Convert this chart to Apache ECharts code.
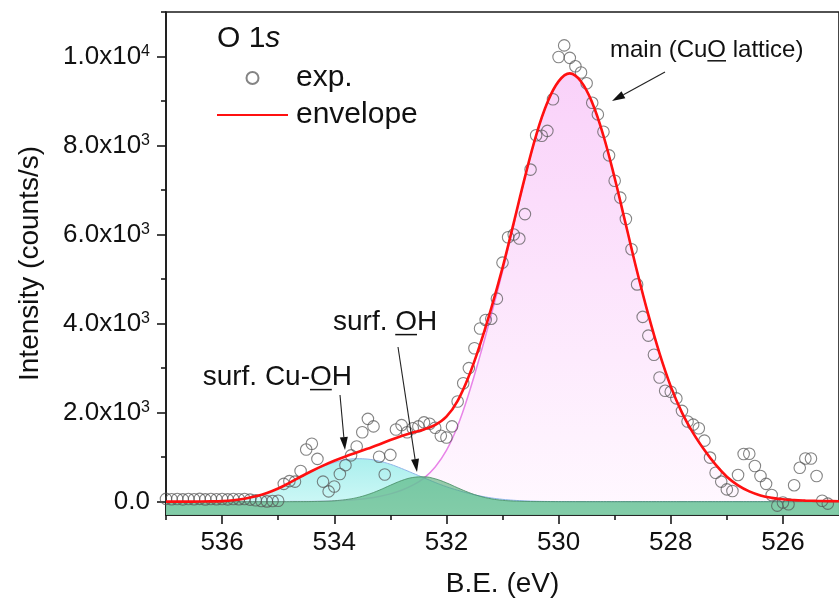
<!DOCTYPE html>
<html>
<head>
<meta charset="utf-8">
<script src="https://cdn.jsdelivr.net/npm/echarts@6/dist/echarts.min.js"></script>
<style>
  html, body { margin: 0; padding: 0; background: #fff; }
  #chart { width: 839px; height: 603px; }
</style>
</head>
<body>
<div id="chart"></div>
<script>
// ---- O 1s spectrum: measured points ----
const expBE = [
  537.0, 536.9, 536.8, 536.7, 536.6, 536.5, 536.4, 536.3, 536.2, 536.1,
  536.0, 535.9, 535.8, 535.7, 535.6, 535.5, 535.4, 535.3, 535.2, 535.1,
  535.0, 534.9, 534.8, 534.7, 534.6, 534.5, 534.4, 534.3, 534.2, 534.1,
  534.0, 533.9, 533.8, 533.7, 533.6, 533.5, 533.4, 533.3, 533.2, 533.1,
  533.0, 532.9, 532.8, 532.7, 532.6, 532.5, 532.4, 532.3, 532.2, 532.1,
  532.0, 531.9, 531.8, 531.7, 531.6, 531.5, 531.4, 531.3, 531.2, 531.1,
  531.0, 530.9, 530.8, 530.7, 530.6, 530.5, 530.4, 530.3, 530.2, 530.1,
  530.0, 529.9, 529.8, 529.7, 529.6, 529.5, 529.4, 529.3, 529.2, 529.1,
  529.0, 528.9, 528.8, 528.7, 528.6, 528.5, 528.4, 528.3, 528.2, 528.1,
  528.0, 527.9, 527.8, 527.7, 527.6, 527.5, 527.4, 527.3, 527.2, 527.1,
  527.0, 526.9, 526.8, 526.7, 526.6, 526.5, 526.4, 526.3, 526.2, 526.1,
  526.0, 525.9, 525.8, 525.7, 525.6, 525.5, 525.4, 525.3, 525.2
];
const expCounts = [
  62, 55, 60, 52, 58, 55, 62, 50, 58, 55,
  60, 52, 58, 55, 60, 45, 30, 15, 5, 15,
  20, 400, 460, 450, 690, 1170, 1300, 960, 450, 230,
  340, 620, 820, 1040, 1240, 1560, 1860, 1690, 1010, 610,
  1050, 1620, 1720, 1560, 1650, 1690, 1780, 1750, 1660, 1480,
  1440, 1690, 2250, 2660, 3000, 3445, 3890, 4080, 4110, 4560,
  5370, 5940, 6000, 5910, 6460, 7460, 8230, 8220, 8330, 9040,
  9990, 10250, 9970, 9780, 9640, 9400, 8960, 8700, 8310, 7780,
  7210, 6830, 6350, 5670, 4880, 4150, 3730, 3300, 2790, 2490,
  2470, 2320, 2040, 1800, 1730, 1650, 1370, 990, 650, 450,
  275, 240, 600, 1070, 1075, 800, 575, 400, 150, -90,
  -20, -60, 370, 760, 970, 970, 575, 20, -45
];

// ---- fitted components (sampled every 0.2 eV) ----
const fitBE = [
  537.0, 536.8, 536.6, 536.4, 536.2, 536.0, 535.8, 535.6, 535.4, 535.2,
  535.0, 534.8, 534.6, 534.4, 534.2, 534.0, 533.8, 533.6, 533.4, 533.2,
  533.0, 532.8, 532.6, 532.4, 532.2, 532.0, 531.8, 531.6, 531.4, 531.2,
  531.0, 530.8, 530.6, 530.4, 530.2, 530.0, 529.8, 529.6, 529.4, 529.2,
  529.0, 528.8, 528.6, 528.4, 528.2, 528.0, 527.8, 527.6, 527.4, 527.2,
  527.0, 526.8, 526.6, 526.4, 526.2, 526.0, 525.8, 525.6, 525.4, 525.2,
  525.0
];
// main (CuO lattice)
const latticeFit = [
  0, 0, 0, 0, 0, 0, 0, 0, 0, 0,
  0, 1, 3, 6, 11, 19, 31, 50, 78, 118,
  175, 255, 370, 530, 780, 1150, 1700, 2430, 3280, 4200,
  5170, 6220, 7270, 8220, 8960, 9440, 9620, 9440, 8960, 8220,
  7270, 6220, 5170, 4200, 3330, 2590, 2000, 1540, 1160, 830,
  560, 365, 230, 140, 85, 52, 34, 24, 17, 12,
  8
];
// surf. Cu-OH
const cuOHFit = [
  0, 0, 1, 2, 5, 12, 30, 65, 120, 195,
  295, 420, 555, 680, 790, 880, 940, 965, 955, 910,
  840, 745, 640, 535, 430, 335, 255, 185, 128, 84,
  52, 31, 17, 9, 4, 2, 1, 0, 0, 0,
  0, 0, 0, 0, 0, 0, 0, 0, 0, 0,
  0, 0, 0, 0, 0, 0, 0, 0, 0, 0,
  0
];
// surf. OH
const surfOHFit = [
  0, 0, 0, 0, 0, 0, 0, 0, 0, 0,
  0, 0, 1, 3, 8, 20, 45, 89, 160, 256,
  368, 473, 543, 558, 513, 423, 311, 205, 121, 64,
  30, 13, 5, 2, 1, 0, 0, 0, 0, 0,
  0, 0, 0, 0, 0, 0, 0, 0, 0, 0,
  0, 0, 0, 0, 0, 0, 0, 0, 0, 0,
  0
];
// envelope (sum of the three components)
const envelopeFit = [
  0, 0, 1, 2, 5, 12, 30, 65, 120, 195,
  295, 421, 559, 689, 809, 919, 1016, 1104, 1193, 1284,
  1383, 1473, 1553, 1623, 1723, 1908, 2266, 2820, 3529, 4348,
  5252, 6264, 7292, 8231, 8965, 9442, 9621, 9440, 8960, 8220,
  7270, 6220, 5170, 4200, 3330, 2590, 2000, 1540, 1160, 830,
  560, 365, 230, 140, 85, 52, 34, 24, 17, 12,
  8
];

// ---- axis ticks and labels ----
const xMajorTicks = [526, 528, 530, 532, 534, 536];
const xMinorTicks = [527, 529, 531, 533, 535, 537];
const yMajorTicks = [0, 2000, 4000, 6000, 8000, 10000];
const yMinorTicks = [1000, 3000, 5000, 7000, 9000, 11000];
const yLabelBase = ['0.0', '2.0x10', '4.0x10', '6.0x10', '8.0x10', '1.0x10'];
const yLabelExp  = ['', '3', '3', '3', '3', '4'];

const FONT = '"Liberation Sans", Arial, Helvetica, sans-serif';
const INK = '#111';
const AXIS = '#1a1a1a';

const pairs = (xs, ys) => xs.map((x, i) => [x, ys[i]]);

const ctx = document.createElement('canvas').getContext('2d');
function textWidth(txt, size) {
  ctx.font = size + 'px ' + FONT;
  return ctx.measureText(txt).width;
}

// straight arrow with a filled head at (x2, y2)
function arrow(x1, y1, x2, y2) {
  const a = Math.atan2(y2 - y1, x2 - x1), L = 13, W = 4;
  const bx = x2 - L * Math.cos(a), by = y2 - L * Math.sin(a);
  const px = -Math.sin(a) * W, py = Math.cos(a) * W;
  return [
    { type: 'line', z: 100, shape: { x1: x1, y1: y1, x2: bx, y2: by },
      style: { stroke: '#222', lineWidth: 1.1 } },
    { type: 'polygon', z: 100, shape: { points: [[x2, y2], [bx + px, by + py], [bx - px, by - py]] },
      style: { fill: '#111' } }
  ];
}

// label with one underlined character
function underlined(pre, mid, post, x, y, size, align) {
  const full = pre + mid + post;
  const wFull = textWidth(full, size), wPre = textWidth(pre, size), wMid = textWidth(mid, size);
  const x0 = align === 'right' ? x - wFull : x;
  const uy = y + size * 0.45;
  return [
    { type: 'text', z: 100, x: x0, y: y,
      style: { text: full, fontSize: size, fontFamily: FONT, fill: INK,
               align: 'left', verticalAlign: 'middle', textAlign: 'left', textVerticalAlign: 'middle' } },
    { type: 'line', z: 100, shape: { x1: x0 + wPre, y1: uy, x2: x0 + wPre + wMid, y2: uy },
      style: { stroke: INK, lineWidth: 1.5 } }
  ];
}

const chart = echarts.init(document.getElementById('chart'), null, { renderer: 'canvas' });

const graphics = [].concat(
  [{ type: 'text', z: 100, x: 217, y: 39,
     style: { text: '{a|O 1}{b|s}', fill: INK, verticalAlign: 'middle', textVerticalAlign: 'middle',
              rich: { a: { fontSize: 30, fontFamily: FONT, fill: INK },
                      b: { fontSize: 30, fontFamily: FONT, fontStyle: 'italic', fill: INK } } } }],
  underlined('main (Cu', 'O', ' lattice)', 610, 50, 24, 'left'),
  arrow(665, 72, 612, 101),
  underlined('surf. ', 'O', 'H', 333, 322, 28, 'left'),
  arrow(398, 347, 417, 472),
  underlined('surf. Cu-', 'O', 'H', 352, 377, 28, 'right'),
  arrow(340, 395, 345, 450)
);

const option = {
  animation: false,
  backgroundColor: '#fff',
  grid: {
    left: 166, top: 12, right: -8.8, bottom: 85.6,
    show: true, borderColor: AXIS, borderWidth: 1.6, backgroundColor: 'transparent'
  },
  legend: {
    data: [
      { name: 'exp.' },
      { name: 'envelope', itemStyle: { opacity: 0 } }
    ],
    orient: 'vertical', left: 216, top: 63, padding: 0,
    itemWidth: 71, itemHeight: 12, itemGap: 7,
    textStyle: { fontSize: 30, fontFamily: FONT, color: INK, padding: [0, 0, 0, 3] }
  },
  xAxis: [{
    type: 'value', min: 525, max: 537, inverse: true,
    axisLine: { show: true, onZero: false, lineStyle: { color: AXIS, width: 1.6 } },
    axisTick: { show: true, length: 9, customValues: xMajorTicks, lineStyle: { color: AXIS, width: 1.6 } },
    axisLabel: { customValues: xMajorTicks, margin: 15, fontSize: 26, fontFamily: FONT, color: INK },
    splitLine: { show: false },
    name: 'B.E. (eV)', nameLocation: 'middle', nameGap: 55,
    nameTextStyle: { fontSize: 28, fontFamily: FONT, color: INK }
  }, {
    type: 'value', min: 525, max: 537, inverse: true, position: 'bottom',
    axisLine: { show: false, onZero: false },
    axisTick: { show: true, length: 5, customValues: xMinorTicks, lineStyle: { color: AXIS, width: 1.6 } },
    axisLabel: { show: false }, splitLine: { show: false }
  }],
  yAxis: [{
    type: 'value', min: -300, max: 11000,
    axisLine: { show: true, onZero: false, lineStyle: { color: AXIS, width: 1.6 } },
    axisTick: { show: true, length: 9, customValues: yMajorTicks, lineStyle: { color: AXIS, width: 1.6 } },
    axisLabel: {
      customValues: yMajorTicks, margin: 16, color: INK,
      formatter: function (v) {
        const i = yMajorTicks.indexOf(v);
        return yLabelExp[i] ? '{m|' + yLabelBase[i] + '}{e|' + yLabelExp[i] + '}' : '{m|' + yLabelBase[i] + '}';
      },
      rich: {
        m: { fontSize: 26, fontFamily: FONT, color: INK },
        e: { fontSize: 16, fontFamily: FONT, color: INK, verticalAlign: 'top', padding: [0, 0, 4, 0] }
      }
    },
    splitLine: { show: false },
    name: 'Intensity (counts/s)', nameLocation: 'middle', nameGap: 122,
    nameTextStyle: { fontSize: 28, fontFamily: FONT, color: INK }
  }, {
    type: 'value', min: -300, max: 11000, position: 'left',
    axisLine: { show: false, onZero: false },
    axisTick: { show: true, length: 5, customValues: yMinorTicks, lineStyle: { color: AXIS, width: 1.6 } },
    axisLabel: { show: false }, splitLine: { show: false }
  }],
  series: [
    {
      name: 'main (CuO lattice)', type: 'line', z: 1, smooth: 0.4, showSymbol: false, silent: true,
      data: pairs(fitBE, latticeFit),
      lineStyle: { color: '#e884e8', width: 1.5 },
      areaStyle: {
        origin: 'start',
        color: new echarts.graphic.LinearGradient(0, 0, 0, 1, [
          { offset: 0, color: 'rgb(247,190,247)' },
          { offset: 1, color: 'rgb(255,246,255)' }
        ])
      }
    },
    {
      name: 'surf. Cu-OH', type: 'line', z: 2, smooth: 0.4, showSymbol: false, silent: true,
      data: pairs(fitBE, cuOHFit),
      lineStyle: { color: '#8fb4e8', width: 1 },
      areaStyle: {
        origin: 'start',
        color: new echarts.graphic.LinearGradient(0, 0, 0, 1, [
          { offset: 0, color: 'rgb(135,232,230)' },
          { offset: 1, color: 'rgb(195,248,245)' }
        ])
      }
    },
    {
      name: 'surf. OH', type: 'line', z: 3, smooth: 0.4, showSymbol: false, silent: true,
      data: pairs(fitBE, surfOHFit),
      lineStyle: { color: 'rgba(70,140,100,0.8)', width: 1 },
      areaStyle: { origin: 'start', color: 'rgba(70,172,108,0.82)' }
    },
    {
      name: 'exp.', type: 'scatter', z: 4, symbol: 'circle', symbolSize: 11.5,
      data: pairs(expBE, expCounts),
      itemStyle: { color: 'rgba(255,255,255,0)', borderColor: 'rgba(85,85,85,0.9)', borderWidth: 1.1 }
    },
    {
      name: 'envelope', type: 'line', z: 5, smooth: 0.4, symbol: 'none',
      data: pairs(fitBE, envelopeFit),
      itemStyle: { color: '#ff1010' },
      lineStyle: { color: '#ff1010', width: 2.6 }
    }
  ],
  graphic: graphics
};

chart.setOption(option);
</script>
</body>
</html>
